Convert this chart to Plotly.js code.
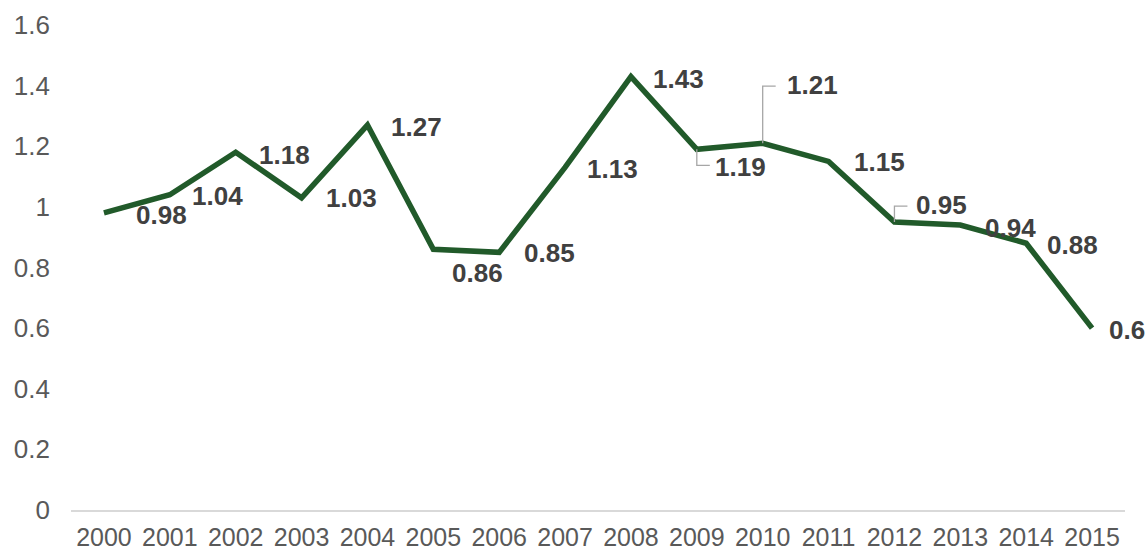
<!DOCTYPE html>
<html>
<head>
<meta charset="utf-8">
<script src="https://cdn.plot.ly/plotly-3.0.1.min.js"></script>
<style>html,body{margin:0;padding:0;background:#fff}#chart{width:1147px;height:550px}</style>
</head>
<body>
<div id="chart"></div>
<script>
const years = [2000,2001,2002,2003,2004,2005,2006,2007,2008,2009,2010,2011,2012,2013,2014,2015];
const values = [0.98,1.04,1.18,1.03,1.27,0.86,0.85,1.13,1.43,1.19,1.21,1.15,0.95,0.94,0.88,0.6];
const labels = ["0.98","1.04","1.18","1.03","1.27","0.86","0.85","1.13","1.43","1.19","1.21","1.15","0.95","0.94","0.88","0.6"];
const yTicks = [0,0.2,0.4,0.6,0.8,1,1.2,1.4,1.6];
const yTickText = ["0","0.2","0.4","0.6","0.8","1","1.2","1.4","1.6"];

// label offsets in pixels (dx right, dy up)
const offsets = [[58,-2],[48,-1],[49,-3],[50,0],[49,-2],[44,-24],[50,-1],[47,-2],[48,-2],[44,-18],[50,58],[51,-1],[47,17],[50,-3],[46,-2],[35,-2]];

const traces = [{
  x: years, y: values, type: 'scatter', mode: 'lines',
  line: {color: '#215a2a', width: 5.5}, hoverinfo: 'skip'
}];

// leader lines (elbow) for labels placed away from their points
const pxPerUnitY = 485/1.6, pxPerYear = 65.9;
const leaders = [9, 10, 12];
leaders.forEach(i => {
  const [dx, dy] = offsets[i];
  const yEnd = values[i] + (dy > 0 ? dy - 1 : dy + 2) / pxPerUnitY;
  const xEnd = years[i] + 13 / pxPerYear;
  traces.push({
    x: [years[i], years[i], xEnd], y: [values[i], yEnd, yEnd],
    type: 'scatter', mode: 'lines', line: {color: '#a6a6a6', width: 1.3},
    hoverinfo: 'skip'
  });
});

const annotations = years.map((yr, i) => ({
  x: yr, y: values[i], xref: 'x', yref: 'y', text: labels[i],
  showarrow: false, xshift: offsets[i][0], yshift: offsets[i][1],
  xanchor: 'center', yanchor: 'middle',
  font: {family: 'Liberation Sans, Arial, sans-serif', size: 26, color: '#404040', weight: 'bold'}
}));

const layout = {
  width: 1147, height: 550,
  margin: {l: 71, r: 22, t: 25, b: 40},
  paper_bgcolor: '#fff', plot_bgcolor: '#fff',
  showlegend: false,
  font: {family: 'Liberation Sans, Arial, sans-serif', size: 26, color: '#595959'},
  xaxis: {
    range: [1999.5, 2015.5], tickmode: 'array', tickvals: years, ticktext: years.map(String),
    showgrid: false, zeroline: false, showline: true, linecolor: '#d9d9d9', linewidth: 1.5,
    ticks: '', ticklabelstandoff: 4, tickfont: {size: 25, color: '#595959'}, fixedrange: true
  },
  yaxis: {
    range: [0, 1.6], tickmode: 'array', tickvals: yTicks, ticktext: yTickText,
    showgrid: false, zeroline: false, showline: false, ticks: '', ticklabelstandoff: 20,
    tickfont: {size: 26, color: '#595959'}, fixedrange: true
  },
  annotations: annotations
};

Plotly.newPlot('chart', traces, layout, {displayModeBar: false, staticPlot: true});
</script>
</body>
</html>
